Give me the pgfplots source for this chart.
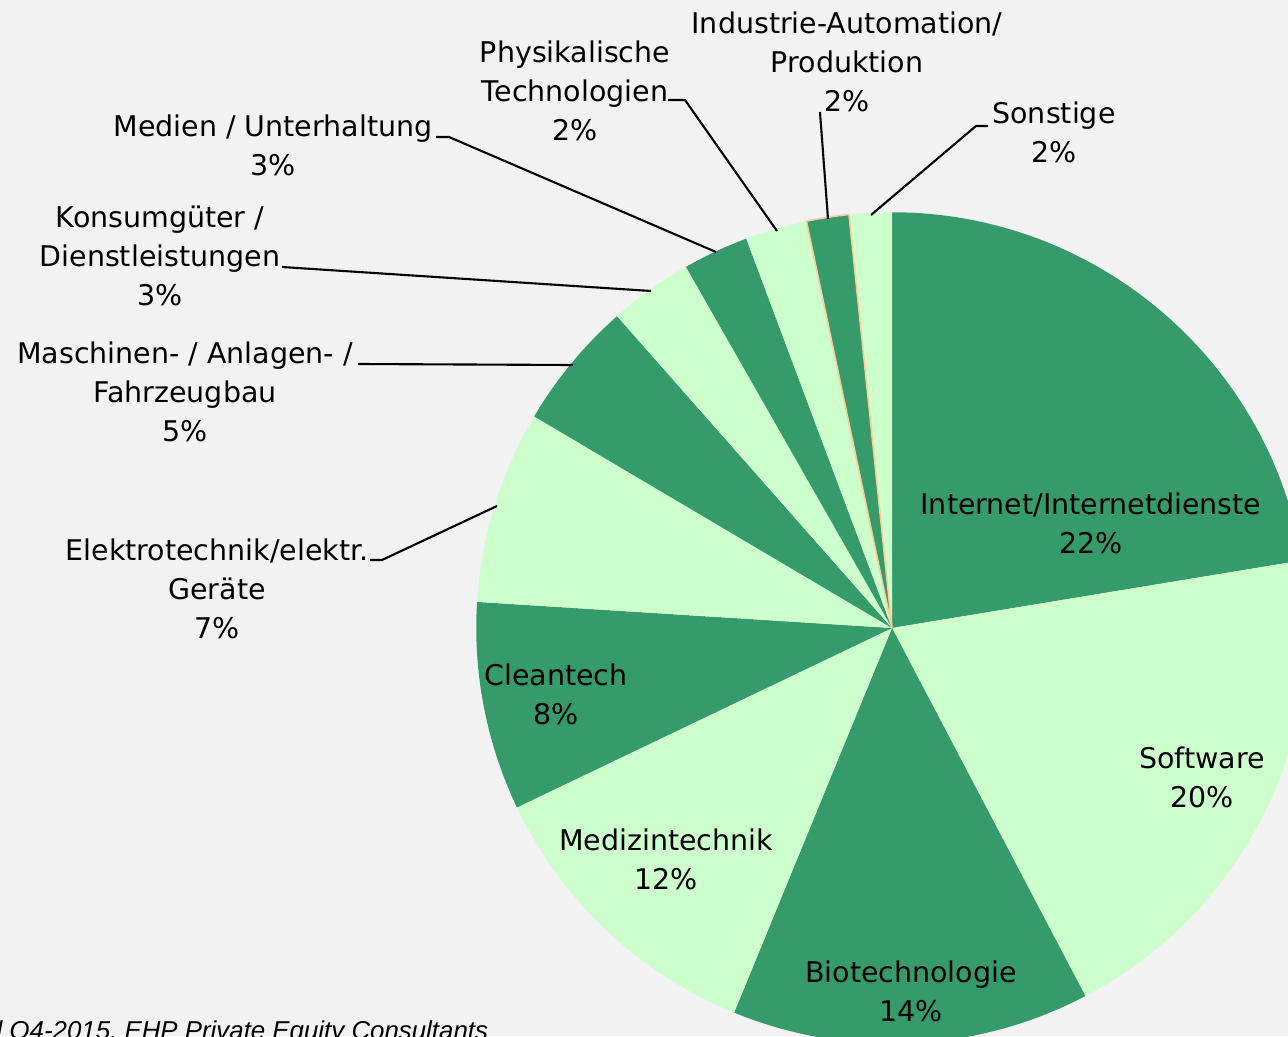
\documentclass[border=0pt]{standalone}
\usepackage{fontspec}
\setmainfont{DejaVu Sans}
\newfontfamily\srcfont{Liberation Sans}
\usepackage{pgfplots}
\usepackage{pgfplotstable}
\pgfplotsset{compat=1.18}

\definecolor{bg}{HTML}{F2F2F2}
\definecolor{dkgreen}{HTML}{359B6A}
\definecolor{ltgreen}{HTML}{CCFFCC}
\definecolor{peach}{HTML}{FFCC99}

% share in percent, clockwise from 12 o'clock
\pgfplotstableread{
value col line
22.4  dkgreen none
19.9  ltgreen none
13.9  dkgreen none
11.7  ltgreen none
8.1   dkgreen none
7.5   ltgreen none
5.0   dkgreen none
3.25  ltgreen none
2.55  dkgreen none
2.4   ltgreen none
1.65  dkgreen peach
1.65  ltgreen none
}\piedata

\begin{document}
\begin{tikzpicture}[font=\fontsize{8.1}{11.1}\selectfont,
  lbl/.style={align=center, inner sep=0pt},
  lead/.style={black, line width=0.6pt}]
\begin{axis}[
  name=ax,
  x=0.01cm, y=0.01cm,
  xmin=0, xmax=1288, ymin=0, ymax=1036,
  hide axis, clip=true,
]
\fill[bg] (axis cs:0,0) rectangle (axis cs:1288,1036);

\pgfplotstablegetrowsof{\piedata}
\pgfmathtruncatemacro\nrows{\pgfplotsretval-1}
% fills
\xdef\angstart{90}
\pgfplotsforeachungrouped \i in {0,...,\nrows}{%
  \pgfplotstablegetelem{\i}{value}\of\piedata \let\v\pgfplotsretval
  \pgfplotstablegetelem{\i}{col}\of\piedata \let\c\pgfplotsretval
  \pgfmathsetmacro\angend{\angstart-3.6*\v}%
  \edef\cmd{\noexpand\fill[\c] (axis cs:892,408) -- ++(\angstart:4.155cm)
    arc[start angle=\angstart, end angle=\angend, radius=4.155cm] -- cycle;}%
  \cmd
  \xdef\angstart{\angend}%
}
% outlines
\xdef\angstart{90}
\pgfplotsforeachungrouped \i in {0,...,\nrows}{%
  \pgfplotstablegetelem{\i}{value}\of\piedata \let\v\pgfplotsretval
  \pgfplotstablegetelem{\i}{line}\of\piedata \let\l\pgfplotsretval
  \pgfmathsetmacro\angend{\angstart-3.6*\v}%
  \edef\cmd{\noexpand\draw[draw=\l, line width=0.45pt] (axis cs:892,408) -- ++(\angstart:4.155cm)
    arc[start angle=\angstart, end angle=\angend, radius=4.155cm] -- cycle;}%
  \cmd
  \xdef\angstart{\angend}%
}

% leader lines
\draw[lead] (axis cs:370,476) -- (axis cs:382,476) -- (axis cs:497,530);
\draw[lead] (axis cs:358,672) -- (axis cs:573,671);
\draw[lead] (axis cs:282,769) -- (axis cs:651,745);
\draw[lead] (axis cs:436,899) -- (axis cs:449,899) -- (axis cs:716,784);
\draw[lead] (axis cs:668,936) -- (axis cs:685,936) -- (axis cs:777,805);
\draw[lead] (axis cs:820,924) -- (axis cs:828,817);
\draw[lead] (axis cs:988,910) -- (axis cs:976,910) -- (axis cs:871,821);

% labels
\node[lbl] at (axis cs:1091,512.5) {Internet/Internetdienste\\22\%};
\node[lbl] at (axis cs:1202,258.5) {Software\\20\%};
\node[lbl] at (axis cs:911,44.5) {Biotechnologie\\14\%};
\node[lbl] at (axis cs:666,176.5) {Medizintechnik\\12\%};
\node[lbl] at (axis cs:556,341.5) {Cleantech\\8\%};
\node[lbl] at (axis cs:217,447) {Elektrotechnik/elektr.\\Geräte\\7\%};
\node[lbl] at (axis cs:185,644) {Maschinen- / Anlagen- /\\Fahrzeugbau\\5\%};
\node[lbl] at (axis cs:160,780) {Konsumgüter /\\Dienstleistungen\\3\%};
\node[lbl] at (axis cs:273,890.5) {Medien / Unterhaltung\\3\%};
\node[lbl] at (axis cs:575,945) {Physikalische\\Technologien\\2\%};
\node[lbl] at (axis cs:847,974) {Industrie-Automation/\\Produktion\\2\%};
\node[lbl] at (axis cs:1054,903.5) {Sonstige\\2\%};

% source line, cut by the lower edge as in the original
\node[anchor=base west, inner sep=0pt, font=\srcfont\fontsize{7.35}{9}\selectfont\itshape]
  at (axis cs:-4,-3) {l Q4-2015, EHP Private Equity Consultants};
\end{axis}
\pgfresetboundingbox
\path[use as bounding box] (ax.south west) rectangle (ax.north east);
\end{tikzpicture}
\end{document}
